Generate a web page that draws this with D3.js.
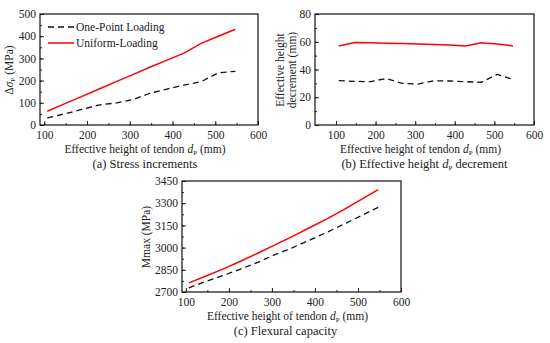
<!DOCTYPE html>
<html>
<head>
<meta charset="utf-8">
<script src="https://cdn.jsdelivr.net/npm/d3@7"></script>
<style>
  body { margin: 0; background: #fff; }
  svg text { font-family: "Liberation Serif", "Times New Roman", serif; fill: #222; }
</style>
</head>
<body>
<script>
// effective height of tendon dp (mm), shared by all three panels
const dp = [107, 147, 187, 227, 267, 307, 347, 387, 427, 467, 507, 547];

// (a) stress increments (MPa)
const stressOnePoint = [32, 50, 70, 90, 99, 114, 143, 162, 180, 195, 235, 242];
const stressUniform = [62, 95, 128, 161, 194, 227, 260, 292, 324, 368, 400, 431];

// (b) effective height decrement (mm)
const decOnePoint = [32, 31.5, 31.2, 33.6, 30, 29.5, 31.8, 31.7, 31.2, 30.8, 36.5, 32.8];
const decUniform = [57, 59.5, 59.3, 59, 58.7, 58.4, 58, 57.6, 57, 59.2, 58.3, 57];

// (c) flexural capacity, Mmax (MPa)
const capOnePoint = [2728, 2772, 2812, 2855, 2900, 2952, 2998, 3050, 3102, 3158, 3215, 3272];
const capUniform = [2762, 2808, 2856, 2908, 2962, 3018, 3074, 3134, 3192, 3256, 3324, 3392];

const xTicks = [100, 200, 300, 400, 500, 600];
const legendNames = ["One-Point Loading", "Uniform-Loading"];

const w = 550, h = 343;
const fs = 11.5;

const svg = d3.select("body").append("svg")
  .attr("width", w)
  .attr("height", h);

function xLabel(g, x, y) {
  const t = g.append("text").attr("x", x).attr("y", y)
    .attr("text-anchor", "middle").style("font-size", fs + "px");
  t.append("tspan").text("Effective height of tendon ");
  t.append("tspan").style("font-style", "italic").text("d");
  t.append("tspan").attr("dy", 2).style("font-size", "7px").text("P");
  t.append("tspan").attr("dy", -2).text(" (mm)");
}

function panel(cfg) {
  const g = svg.append("g");
  const x = d3.scaleLinear().domain(cfg.xDomain).range([cfg.left, cfg.right]);
  const y = d3.scaleLinear().domain(cfg.yDomain).range([cfg.bottom, cfg.top]);

  // minor ticks first
  g.append("g")
    .attr("transform", `translate(0,${cfg.bottom})`)
    .call(d3.axisBottom(x).tickValues(d3.range(100, 601, 50).filter(v => v >= cfg.xDomain[0])).tickSize(-2).tickFormat(""))
    .call(a => a.select(".domain").remove());
  g.append("g")
    .attr("transform", `translate(${cfg.left},0)`)
    .call(d3.axisLeft(y).tickValues(cfg.yMinor).tickSize(-2).tickFormat(""))
    .call(a => a.select(".domain").remove());

  const xa = g.append("g")
    .attr("transform", `translate(0,${cfg.bottom})`)
    .call(d3.axisBottom(x).tickValues(xTicks).tickSize(-4).tickPadding(6).tickFormat(d3.format("d")));
  const ya = g.append("g")
    .attr("transform", `translate(${cfg.left},0)`)
    .call(d3.axisLeft(y).tickValues(cfg.yTicks).tickSize(-4).tickPadding(4).tickFormat(d3.format("d")));
  [xa, ya].forEach(a => {
    a.select(".domain").remove();
    a.selectAll("text").style("font-size", fs + "px").style("font-family", "Liberation Serif, serif").attr("fill", "#222");
  });
  g.selectAll("line").attr("stroke", "#222");

  g.append("rect")
    .attr("x", cfg.left).attr("y", cfg.top)
    .attr("width", cfg.right - cfg.left).attr("height", cfg.bottom - cfg.top)
    .attr("fill", "none").attr("stroke", "#111").attr("stroke-width", 1.2);

  const line = d3.line().x((d, i) => x(dp[i])).y(d => y(d));
  g.append("path").datum(cfg.one)
    .attr("d", line).attr("fill", "none")
    .attr("stroke", "#111").attr("stroke-width", 1.3).attr("stroke-dasharray", "6,4");
  g.append("path").datum(cfg.uni)
    .attr("d", line).attr("fill", "none")
    .attr("stroke", "#f00").attr("stroke-width", 1.5);

  const cx = (cfg.left + cfg.right) / 2;
  xLabel(g, cx - 4, cfg.bottom + 28);
  g.append("text").attr("x", cx - 4 + (cfg.capShift || 0)).attr("y", cfg.bottom + 43)
    .attr("text-anchor", "middle").style("font-size", "12.5px")
    .call(cfg.caption);
  return g;
}

// (a)
const ga = panel({
  left: 40, right: 258, top: 14, bottom: 125,
  xDomain: [90, 600], yDomain: [0, 500],
  yTicks: [0, 100, 200, 300, 400, 500], yMinor: d3.range(0, 501, 50),
  one: stressOnePoint, uni: stressUniform,
  caption: t => t.text("(a) Stress increments")
});
const ya = ga.append("text").attr("transform", "translate(13,70) rotate(-90)")
  .attr("text-anchor", "middle").style("font-size", fs + "px");
ya.append("tspan").text("Δ");
ya.append("tspan").style("font-style", "italic").text("σ");
ya.append("tspan").attr("dy", 2).style("font-size", "7px").text("P");
ya.append("tspan").attr("dy", -2).text(" (MPa)");

// legend
[0, 1].forEach(i => {
  const ly = 27 + i * 16;
  ga.append("line").attr("x1", 48).attr("x2", 74).attr("y1", ly).attr("y2", ly)
    .attr("stroke", i ? "#f00" : "#111").attr("stroke-width", i ? 1.5 : 1.3)
    .attr("stroke-dasharray", i ? null : "6,4");
  ga.append("text").attr("x", 76).attr("y", ly + 4).style("font-size", fs + "px").text(legendNames[i]);
});

// (b)
const gb = panel({
  left: 315, right: 534, top: 14, bottom: 125,
  xDomain: [47, 600], yDomain: [0, 80],
  yTicks: [0, 20, 40, 60, 80], yMinor: d3.range(0, 81, 10),
  one: decOnePoint, uni: decUniform, capShift: 4,
  caption: t => {
    t.append("tspan").text("(b) Effective height ");
    t.append("tspan").style("font-style", "italic").text("d");
    t.append("tspan").attr("dy", 2).style("font-size", "7px").text("P");
    t.append("tspan").attr("dy", -2).text(" decrement");
  }
});
gb.append("text").attr("transform", "translate(284,70) rotate(-90)")
  .attr("text-anchor", "middle").style("font-size", fs + "px").text("Effective height");
gb.append("text").attr("transform", "translate(296,70) rotate(-90)")
  .attr("text-anchor", "middle").style("font-size", fs + "px").text("decrement (mm)");

// (c)
const gc = panel({
  left: 182, right: 401, top: 181, bottom: 292,
  xDomain: [91, 600], yDomain: [2700, 3450],
  yTicks: [2700, 2850, 3000, 3150, 3300, 3450], yMinor: d3.range(2700, 3451, 75),
  one: capOnePoint, uni: capUniform, capShift: -2,
  caption: t => t.text("(c) Flexural capacity")
});
gc.append("text").attr("transform", "translate(150,237) rotate(-90)")
  .attr("text-anchor", "middle").style("font-size", fs + "px").text("Mmax (MPa)");
</script>
</body>
</html>
